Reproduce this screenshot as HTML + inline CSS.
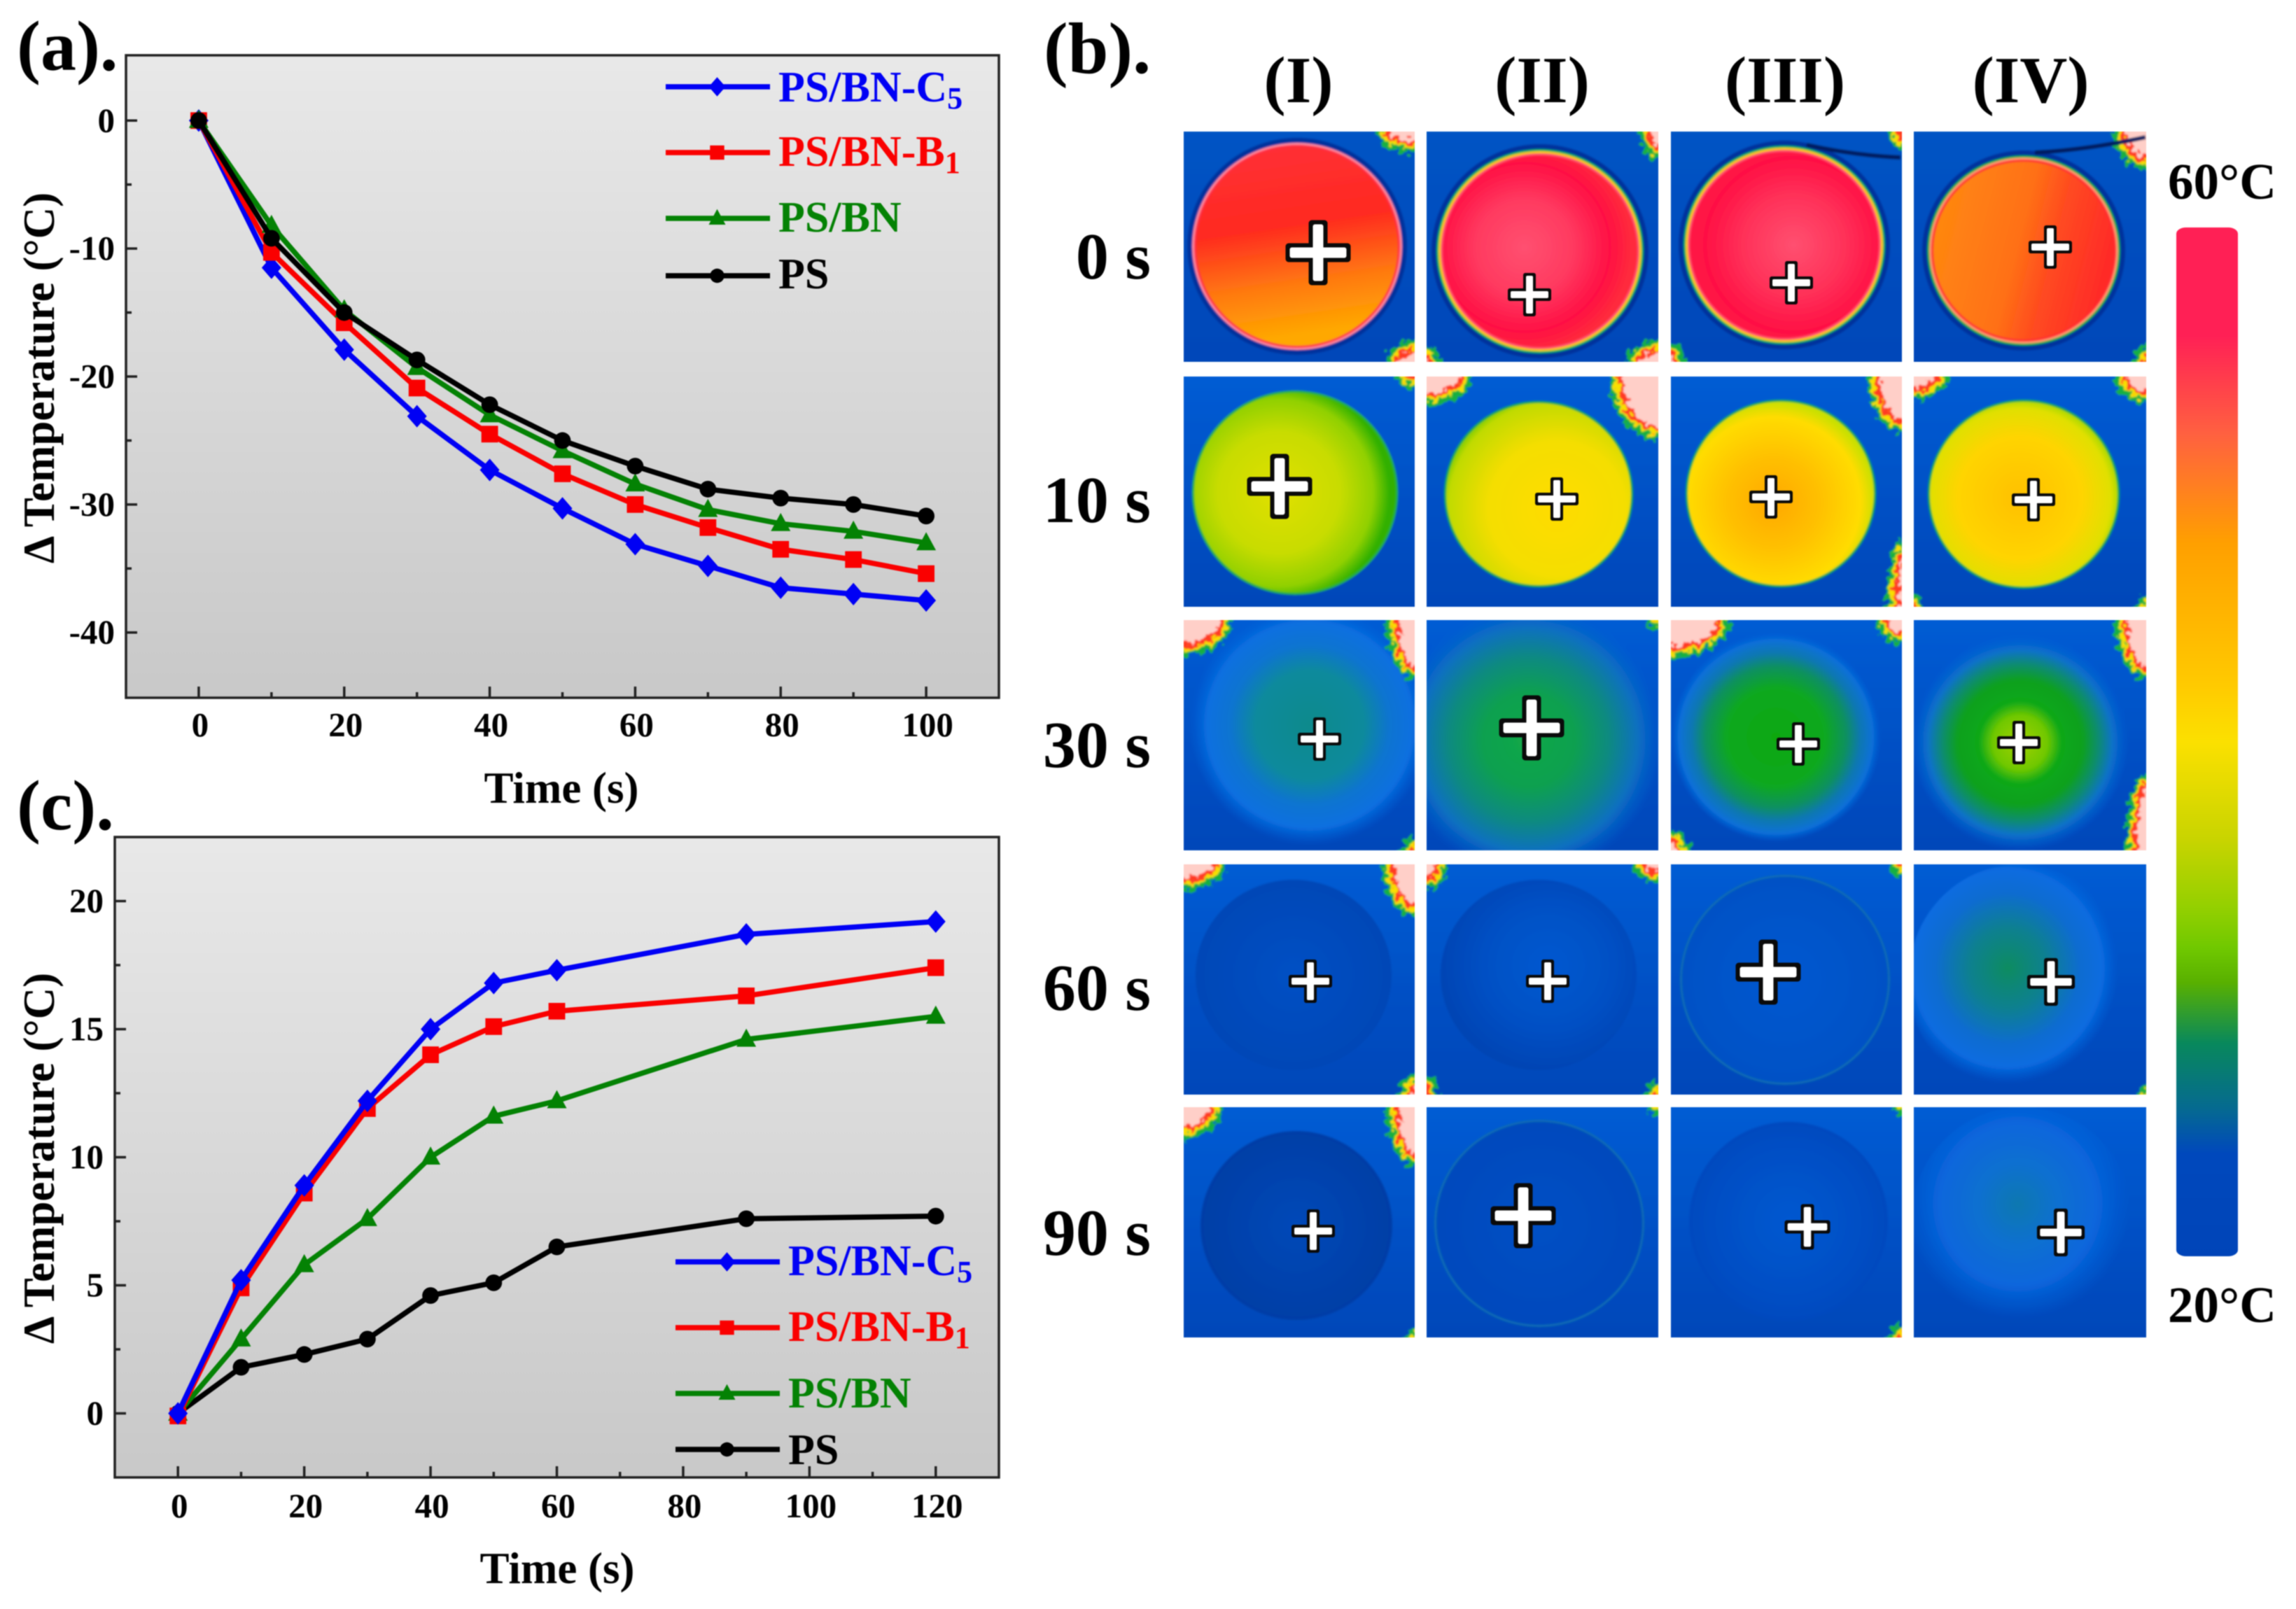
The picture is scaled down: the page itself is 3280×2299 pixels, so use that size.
<!DOCTYPE html>
<html lang="en">
<head>
<meta charset="utf-8">
<title>Thermal response figure</title>
<style>
html,body{margin:0;padding:0;background:#fff;}
svg{display:block;filter:blur(0.9px);}
text{font-family:"Liberation Serif",serif;font-weight:bold;fill:#000;}
</style>
</head>
<body>
<svg id="fig" xmlns="http://www.w3.org/2000/svg" width="3280" height="2299" viewBox="0 0 3280 2299">
<defs>
<linearGradient id="plotBg" x1="0" y1="0" x2="0" y2="1"><stop offset="0" stop-color="#e8e8e8"/><stop offset="1" stop-color="#c8c8c8"/></linearGradient>
<linearGradient id="cbar" x1="0" y1="0" x2="0" y2="1">
<stop offset="0" stop-color="#ff2055"/><stop offset=".105" stop-color="#ff2055"/><stop offset=".2" stop-color="#ff6040"/><stop offset=".306" stop-color="#ff9f00"/><stop offset=".44" stop-color="#ffc800"/><stop offset=".5" stop-color="#fbe000"/><stop offset=".595" stop-color="#c8d400"/><stop offset=".665" stop-color="#90cf00"/><stop offset=".7" stop-color="#70c800"/><stop offset=".734" stop-color="#58b000"/><stop offset=".793" stop-color="#08885c"/><stop offset=".856" stop-color="#056a90"/><stop offset=".9" stop-color="#0048bc"/><stop offset="1" stop-color="#0044b8"/>
</linearGradient>
<filter id="soft" x="-2%" y="-2%" width="104%" height="104%"><feGaussianBlur stdDeviation="1.3"/></filter>
<filter id="rough" x="-30%" y="-30%" width="160%" height="160%"><feTurbulence type="fractalNoise" baseFrequency="0.11" numOctaves="2" seed="7" result="n"/><feDisplacementMap in="SourceGraphic" in2="n" scale="22" xChannelSelector="R" yChannelSelector="G"/></filter>
</defs>

<text x="24" y="100" font-size="102">(a).</text>
<text x="1491" y="104" font-size="104">(b).</text>
<text x="24" y="1185" font-size="102">(c).</text>

<text x="1855" y="146" font-size="94" text-anchor="middle">(I)</text>
<text x="2203" y="146" font-size="94" text-anchor="middle">(II)</text>
<text x="2550" y="146" font-size="94" text-anchor="middle">(III)</text>
<text x="2901" y="146" font-size="94" text-anchor="middle">(IV)</text>

<text x="1644" y="398" font-size="94" text-anchor="end">0 s</text>
<text x="1644" y="746" font-size="94" text-anchor="end">10 s</text>
<text x="1644" y="1096" font-size="94" text-anchor="end">30 s</text>
<text x="1644" y="1443" font-size="94" text-anchor="end">60 s</text>
<text x="1644" y="1793" font-size="94" text-anchor="end">90 s</text>

<rect x="3109" y="325" width="88" height="1470" rx="14" ry="9" fill="url(#cbar)"/>
<text x="3097" y="284" font-size="73">60°C</text>
<text x="3097" y="1889" font-size="73">20°C</text>

<text x="802" y="1147" font-size="63" text-anchor="middle">Time (s)</text>
<text transform="translate(77,540) rotate(-90)" font-size="63" text-anchor="middle">Δ Temperature (°C)</text>
<text x="796" y="2262" font-size="63" text-anchor="middle">Time (s)</text>
<text transform="translate(77,1655) rotate(-90)" font-size="63" text-anchor="middle">Δ Temperature (°C)</text>

<g id="chartA"></g>
<g id="chartC"></g>
<g id="tiles"></g>
</svg>

<script>
// ---- chart (a) data ----
const aTimes = [0, 10, 20, 30, 40, 50, 60, 70, 80, 90, 100];
const aBlue  = [0, -11.5, -17.9, -23.1, -27.3, -30.3, -33.1, -34.8, -36.5, -37, -37.5];
const aRed   = [0, -10.3, -15.8, -20.9, -24.5, -27.6, -30, -31.8, -33.5, -34.3, -35.4];
const aGreen = [0, -8.2, -14.8, -19.3, -23, -25.8, -28.4, -30.4, -31.5, -32.1, -33];
const aBlack = [0, -9.2, -15, -18.7, -22.2, -25, -27, -28.8, -29.5, -30, -30.9];
const aXTicks = [0, 20, 40, 60, 80, 100];
const aXMinor = [10, 30, 50, 70, 90];
const aYTicks = [0, -10, -20, -30, -40];
const aYMinor = [-5, -15, -25, -35];

// ---- chart (c) data ----
const cTimes = [0, 10, 20, 30, 40, 50, 60, 90, 120];
const cBlue  = [0, 5.2, 8.9, 12.2, 15, 16.8, 17.3, 18.7, 19.2];
const cRed   = [-0.1, 4.9, 8.6, 11.9, 14, 15.1, 15.7, 16.3, 17.4];
const cGreen = [0, 2.9, 5.8, 7.6, 10, 11.6, 12.2, 14.6, 15.5];
const cBlack = [0, 1.8, 2.3, 2.9, 4.6, 5.1, 6.5, 7.6, 7.7];
const cXTicks = [0, 20, 40, 60, 80, 100, 120];
const cXMinor = [10, 30, 50, 70, 90, 110];
const cYTicks = [0, 5, 10, 15, 20];
const cYMinor = [2.5, 7.5, 12.5, 17.5];

const seriesNames = ['PS/BN-C', 'PS/BN-B', 'PS/BN', 'PS'];
const seriesSubs  = ['5', '1', '', ''];
const seriesKeys  = ['blue', 'red', 'green', 'black'];

const NS = 'http://www.w3.org/2000/svg';
const colorOf = {blue:'#0000f5', red:'#fa0000', green:'#048204', black:'#000000'};
const shapeOf = {blue:'diamond', red:'square', green:'triangle', black:'circle'};

function mk(tag, attrs, parent) {
  const n = document.createElementNS(NS, tag);
  for (const k in attrs) n.setAttribute(k, attrs[k]);
  if (parent) parent.appendChild(n);
  return n;
}
function marker(shape, x, y, s, fill, parent) {
  if (shape === 'circle') return mk('circle', {cx:x, cy:y, r:s*0.85, fill}, parent);
  if (shape === 'square') return mk('rect', {x:x-s*0.85, y:y-s*0.85, width:s*1.7, height:s*1.7, fill}, parent);
  if (shape === 'diamond') return mk('polygon', {points:`${x},${y-s*1.15} ${x+s},${y} ${x},${y+s*1.15} ${x-s},${y}`, fill}, parent);
  return mk('polygon', {points:`${x},${y-s*1.1} ${x+s},${y+s*0.75} ${x-s},${y+s*0.75}`, fill}, parent);
}

function drawChart(root, prefix, box, dom, xTicks, xMinor, yTicks, yMinor, xs, series, order, lg) {
  const X = v => box.l + (v - dom.x0) / (dom.x1 - dom.x0) * (box.r - box.l);
  const Y = v => box.b - (v - dom.y0) / (dom.y1 - dom.y0) * (box.b - box.t);

  const bg = mk('rect', {x:box.l, y:box.t, width:box.r-box.l, height:box.b-box.t, fill:'url(#plotBg)', stroke:'#222', 'stroke-width':3.5}, root);
  
  

  xTicks.forEach(v => {
    const t = mk('line', {x1:X(v), x2:X(v), y1:box.b, y2:box.b-16, stroke:'#222', 'stroke-width':3.5}, root);
    
    
    const l = mk('text', {x:X(v)+2, y:box.xLabelY, 'font-size':49, 'text-anchor':'middle'}, root);
    l.textContent = String(v);
    
    
  });
  xMinor.forEach(v => {
    const t = mk('line', {x1:X(v), x2:X(v), y1:box.b, y2:box.b-8, stroke:'#222', 'stroke-width':3.5}, root);
    
    
  });
  yTicks.forEach(v => {
    const t = mk('line', {x1:box.l, x2:box.l+16, y1:Y(v), y2:Y(v), stroke:'#222', 'stroke-width':3.5}, root);
    
    
    const l = mk('text', {x:box.l-16, y:Y(v)+16, 'font-size':49, 'text-anchor':'end'}, root);
    l.textContent = String(v);
    
    
  });
  yMinor.forEach(v => {
    const t = mk('line', {x1:box.l, x2:box.l+8, y1:Y(v), y2:Y(v), stroke:'#222', 'stroke-width':3.5}, root);
    
    
  });

  order.forEach(key => {
    const vals = series[key];
    const col = colorOf[key];
    const g = mk('g', {}, root);
    
    
    const line = mk('polyline', {points:vals.map((v,i)=>X(xs[i])+','+Y(v)).join(' '), fill:'none', stroke:col, 'stroke-width':7.5, 'stroke-linejoin':'round'}, g);
    
    
    vals.forEach((v,i) => {
      const m = marker(shapeOf[key], X(xs[i]), Y(v), 14, col, g);
      
      
    });
  });

  seriesKeys.forEach((key,i) => {
    const g = mk('g', {}, root);
    
    
    const col = colorOf[key];
    mk('line', {x1:lg.x1, x2:lg.x2, y1:lg.lineY[i], y2:lg.lineY[i], stroke:col, 'stroke-width':7.5}, g);
    marker(shapeOf[key], (lg.x1+lg.x2)/2 - 1, lg.lineY[i], 12, col, g);
    const t = mk('text', {x:lg.textX, y:lg.textY[i], 'font-size':62, style:'fill:'+col}, g);
    t.textContent = seriesNames[i];
    if (seriesSubs[i]) {
      const s = mk('tspan', {dy:10, 'font-size':44}, t);
      s.textContent = seriesSubs[i];
    }
  });
}

drawChart(document.getElementById('chartA'), 'chart-a',
  {l:180, r:1427, t:79, b:997, xLabelY:1052},
  {x0:-10, x1:110, y0:-45.1, y1:5.1},
  aXTicks, aXMinor, aYTicks, aYMinor, aTimes,
  {blue:aBlue, red:aRed, green:aGreen, black:aBlack},
  ['blue','red','green','black'],
  {x1:951, x2:1100, textX:1112, lineY:[124,218,312,394], textY:[145,237,331,412]});

drawChart(document.getElementById('chartC'), 'chart-c',
  {l:164, r:1427, t:1196, b:2111, xLabelY:2168},
  {x0:-10, x1:130, y0:-2.5, y1:22.5},
  cXTicks, cXMinor, cYTicks, cYMinor, cTimes,
  {blue:cBlue, red:cRed, green:cGreen, black:cBlack},
  ['black','green','red','blue'],
  {x1:965, x2:1114, textX:1126, lineY:[1803,1897,1991,2071], textY:[1822,1916,2011,2092]});

// ---- thermal image tiles (illustrative photos, not plotted data) ----
const colX = [1691, 2038, 2387, 2734];
const rowY = [188, 538, 886, 1235, 1582];
const colW = [330, 331, 330, 332];
const tileH = 329;
const rimHot = ['#0fae60','#ffc800','#ff5070'];
const rimWarm = ['#10a848'];
const tiles = [
 // 0 s
 {c:0,r:0,e:[162,164,150,148],halo:1,rim:['#ff8aa0','#ff2a40'],g:['l',[[0,'#ff3038'],[.45,'#ff2a20'],[.75,'#ff7a10'],[1,'#ffa800']]],x:[192,173,1.5],k:[['tr',50,26],['br',36,26]]},
 {c:1,r:0,e:[162,171,148,146],halo:1,rim:rimHot,g:['r',[[0,'#ff5070'],[.45,'#ff3a60'],[.8,'#ff1044'],[1,'#ff2a3c']],.42,.48],x:[147,233,1],k:[['tr',22,36],['br',40,26],['bl',16,16]]},
 {c:2,r:0,e:[162,162,144,142],halo:1,rim:rimHot,g:['r',[[0,'#ff5070'],[.5,'#ff3058'],[.85,'#ff1044'],[1,'#ff1a44']],.55,.5],x:[172,216,1],k:[['tr',14,22],['bl',16,22]],dark:'M194 19 Q261 34 328 37'},
 {c:3,r:0,e:[157,170,138,136],halo:1,rim:['#10a848','#ff9a70','#ff2a30'],g:['l2',[[0,'#ff8a10'],[.5,'#ff7015'],[.7,'#ff4a20'],[1,'#ff2a28']]],x:[195,165,1],k:[['tr',42,50],['br',14,18]],dark:'M173 30 Q249 26 331 8'},
 // 10 s
 {c:0,r:1,e:[159,166,147,146],rim:['#20b040'],g:['r',[[0,'#e0e000'],[.55,'#c8dc00'],[.85,'#90d000'],[1,'#30b000']],.42,.5],x:[137,157,1.5],k:[['tr',22,12]]},
 {c:1,r:1,e:[160,168,135,133],rim:rimWarm,g:['r',[[0,'#ffdc00'],[.6,'#f4de00'],[.95,'#c0da00'],[1,'#90d000']],.6,.58,.62],x:[186,175,1],k:[['tl',60,36],['tr',65,85]]},
 {c:2,r:1,e:[157,167,136,134],rim:rimWarm,g:['r',[[0,'#ffa800'],[.45,'#ffc000'],[.85,'#ffdc00'],[1,'#c8e000']],.46,.55],x:[143,172,1],k:[['tr',45,75],['br',18,90]]},
 {c:3,r:1,e:[157,168,137,135],rim:rimWarm,g:['r',[[0,'#ffc000'],[.6,'#ffd400'],[.88,'#e0e000'],[1,'#90d400']],.48,.52],x:[171,176,1],k:[['tl',45,28],['tr',40,34],['bl',10,12],['br',10,12]]},
 // 30 s
 {c:0,r:2,e:[180,150,172,172],g:['r',[[0,'#0a8a8c'],[.45,'#0a8a9c'],[.66,'#0a74d0'],[.85,'#0870e0'],[1,'#0860d8',0]],.5,.5,.5],x:[194,170,1],k:[['tl',65,46],['tr',36,80],['br',14,14]]},
 {c:1,r:2,e:[146,171,190,195],g:['r',[[0,'#12a848'],[.35,'#10a050'],[.6,'#0c8a80'],[.82,'#0a70c0'],[1,'#0860d0',0]],.5,.5,.5],x:[150,154,1.5],k:[['tr',10,10]]},
 {c:2,r:2,e:[150,167,150,150],g:['r',[[0,'#08a810'],[.47,'#0aa820'],[.67,'#0e9060'],[.8,'#0a78b0'],[.92,'#0870d8'],[1,'#0860d8',0]],.5,.5,.5],x:[182,177,1],k:[['tl',80,50],['tr',32,30],['bl',22,24]]},
 {c:3,r:2,e:[152,175,155,155],g:['r',[[0,'#a0d000'],[.25,'#70c800'],[.38,'#10a818'],[.58,'#10a020'],[.72,'#0c8c70'],[.85,'#0a72c8'],[1,'#0860d8',0]],.5,.5,.5],x:[150,175,1],k:[['tr',40,80],['br',26,105]]},
 // 60 s
 {c:0,r:3,e:[157,158,140,136],g:['r',[[0,'#0050c4'],[.8,'#0048b8'],[1,'#0044b4']]],x:[181,167,1],k:[['tl',55,32],['tr',42,70],['br',18,24]]},
 {c:1,r:3,e:[160,158,140,136],g:['r',[[0,'#0058d0'],[.6,'#0050c4'],[1,'#0044b4']],.55,.45],x:[173,167,1],k:[['tl',26,30],['tr',32,22],['bl',12,22],['br',14,14]]},
 {c:2,r:3,e:[163,165,150,150],rim:['#0a6cb4'],g:['r',[[0,'#0058d0'],[1,'#0050c4']]],x:[139,154,1.5],k:[['tr',12,12]]},
 {c:3,r:3,e:[150,165,158,165],g:['r',[[0,'#0a8c60'],[.35,'#0a8090'],[.65,'#0a6cd0'],[.85,'#086ce0'],[1,'#0860d8',0]],.45,.45,.5],x:[196,168,1.1],k:[['br',8,10]]},
 // 90 s
 {c:0,r:4,e:[161,169,137,135],g:['r',[[0,'#0048b8'],[.8,'#0040a8'],[1,'#003ca4']]],x:[185,177,1],k:[['tl',50,40],['tr',36,80],['br',8,10]]},
 {c:1,r:4,e:[161,166,150,148],rim:['#0a6cb4'],g:['r',[[0,'#0050c4'],[1,'#0048bc']]],x:[138,155,1.5],k:[['tr',8,8]]},
 {c:2,r:4,e:[168,163,142,142],g:['r',[[0,'#0058d0'],[.7,'#004ec4'],[1,'#0048bc']]],x:[195,171,1.05],k:[['tr',6,8],['br',14,14]]},
 {c:3,r:4,e:[155,165,160,165],g:['r',[[0,'#0a78b0'],[.35,'#0a70d0'],[.7,'#0866dc'],[1,'#0860d8',0]],.48,.42,.5],x:[210,179,1.1],k:[]}
];

const svgDefs = document.querySelector('#fig defs');
const tilesRoot = document.getElementById('tiles');
tiles.forEach((t, idx) => {
  const px = colX[t.c], py = rowY[t.r], w = colW[t.c], h = tileH;
  const clipId = 'tc' + idx, fillId = 'tf' + idx, bgId = 'tb' + idx;
  const clip = mk('clipPath', {id:clipId}, svgDefs);
  mk('rect', {x:0, y:0, width:w, height:h}, clip);

  const bgGrad = mk('linearGradient', {id:bgId, x1:0, y1:0, x2:0, y2:1}, svgDefs);
  mk('stop', {offset:0, 'stop-color':t.r === 0 ? '#0054c4' : '#005cd4'}, bgGrad);
  mk('stop', {offset:1, 'stop-color':'#0046b8'}, bgGrad);

  const kind = t.g[0];
  const grad = kind === 'r'
    ? mk('radialGradient', {id:fillId, cx:t.g[2] ?? .5, cy:t.g[3] ?? .5, r:t.g[4] ?? .55, fx:t.g[2] ?? .5, fy:t.g[3] ?? .5}, svgDefs)
    : kind === 'l2'
      ? mk('linearGradient', {id:fillId, x1:0, y1:.2, x2:1, y2:.45}, svgDefs)
      : mk('linearGradient', {id:fillId, x1:0, y1:0, x2:.15, y2:1}, svgDefs);
  t.g[1].forEach(s => {
    const st = mk('stop', {offset:s[0], 'stop-color':s[1]}, grad);
    if (s.length > 2) st.setAttribute('stop-opacity', s[2]);
  });

  const outer = mk('g', {transform:`translate(${px},${py})`, 'clip-path':`url(#${clipId})`}, tilesRoot);
  
  
  const g = mk('g', {filter:'url(#soft)'}, outer);
  mk('rect', {x:-4, y:-4, width:w+8, height:h+8, fill:`url(#${bgId})`}, g);

  const e = t.e;
  if (t.halo) mk('ellipse', {cx:e[0], cy:e[1], rx:e[2]+7, ry:e[3]+7, fill:'#00309c'}, g);
  const rims = t.rim || [];
  rims.forEach((c,i) => {
    const inset = i * 3;
    mk('ellipse', {cx:e[0], cy:e[1], rx:e[2]-inset, ry:e[3]-inset, fill:c}, g);
  });
  const inner = rims.length * 3;
  mk('ellipse', {cx:e[0], cy:e[1], rx:e[2]-inner, ry:e[3]-inner, fill:`url(#${fillId})`}, g);

  const corners = mk('g', {filter:'url(#rough)'}, g);
  t.k.forEach(k => {
    const cx = k[0][1] === 'r' ? w : 0;
    const cy = k[0][0] === 'b' ? h : 0;
    [[5,'#12b040'],[-2,'#f8e000'],[-7,'#ff3a20'],[-14,'#ffcfc8']].forEach(l => {
      const rx = k[1] + l[0], ry = k[2] + l[0];
      if (rx > 0 && ry > 0) mk('ellipse', {cx, cy, rx, ry, fill:l[1]}, corners);
    });
  });
  if (t.dark) mk('path', {d:t.dark, fill:'none', stroke:'#001a60', 'stroke-width':6}, g);

  const cross = mk('g', {transform:`translate(${t.x[0]},${t.x[1]}) scale(${t.x[2]})`}, outer);
  
  
  mk('rect', {x:-31, y:-9, width:62, height:18, rx:3, fill:'#0a0a0a'}, cross);
  mk('rect', {x:-9, y:-31, width:18, height:62, rx:3, fill:'#0a0a0a'}, cross);
  mk('rect', {x:-27, y:-5, width:54, height:10, rx:2, fill:'#fff'}, cross);
  mk('rect', {x:-5, y:-27, width:10, height:54, rx:2, fill:'#fff'}, cross);
});
</script>
</body>
</html>
